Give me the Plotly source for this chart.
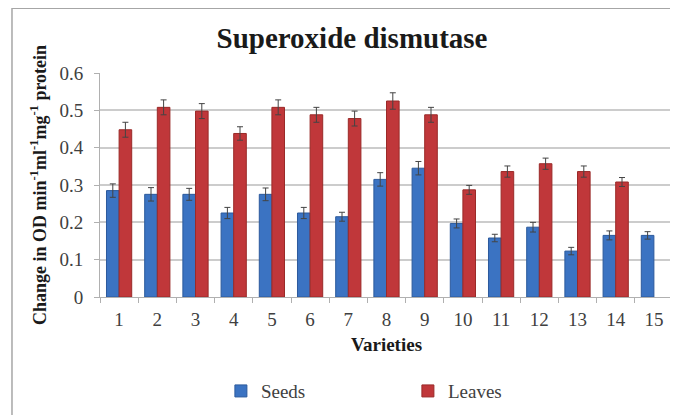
import plotly.graph_objects as go

varieties = [str(i) for i in range(1, 16)]
seeds = [0.285, 0.275, 0.275, 0.225, 0.275, 0.225, 0.215, 0.315, 0.345,
         0.197, 0.158, 0.187, 0.123, 0.165, 0.165]
seeds_err = [0.018, 0.018, 0.016, 0.015, 0.017, 0.015, 0.012, 0.018, 0.018,
             0.012, 0.010, 0.013, 0.010, 0.012, 0.010]
leaves = [0.448, 0.508, 0.498, 0.438, 0.508, 0.488, 0.478, 0.525, 0.488,
          0.287, 0.336, 0.357, 0.336, 0.308, None]
leaves_err = [0.020, 0.020, 0.020, 0.018, 0.020, 0.020, 0.020, 0.022, 0.020,
              0.012, 0.015, 0.015, 0.015, 0.012, 0]

serif = "Liberation Serif, Tinos, 'Times New Roman', 'DejaVu Serif', serif"

fig = go.Figure()
fig.add_trace(go.Bar(
    x=varieties, y=seeds, name="Seeds",
    marker=dict(color="#3B73C2", line=dict(color="#2C5A9C", width=1)),
    error_y=dict(type="data", array=seeds_err, color="#444444", thickness=1, width=3),
))
fig.add_trace(go.Bar(
    x=varieties, y=leaves, name="Leaves",
    marker=dict(color="#C0373A", line=dict(color="#9A2A28", width=1)),
    error_y=dict(type="data", array=leaves_err, color="#444444", thickness=1, width=3),
))

# frame of the screenshot (left and top edges)
fig.add_shape(type="line", xref="paper", yref="paper",
              x0=-0.1536, x1=-0.1536, y0=1.29, y1=-0.6,
              line=dict(color="#a6a6a6", width=1.5))
fig.add_shape(type="line", xref="paper", yref="paper",
              x0=-0.1536, x1=1.05, y0=1.29, y1=1.29,
              line=dict(color="#a6a6a6", width=2))

fig.update_layout(
    width=670, height=407,
    margin=dict(l=92, r=5, t=65, b=118, autoexpand=False),
    paper_bgcolor="white", plot_bgcolor="white",
    barmode="group", bargap=0.34, bargroupgap=0,
    font=dict(family=serif, size=19, color="#404040"),
    title=dict(text="<b>Superoxide dismutase</b>", x=344 / 670, xanchor="center",
               y=1 - 30 / 407, yanchor="middle",
               font=dict(family=serif, size=29, color="#1a1a1a")),
    xaxis=dict(
        showline=True, linecolor="#b0b0b0", linewidth=1,
        ticks="outside", tickson="boundaries", ticklen=5, tickcolor="#b0b0b0",
        showgrid=False, ticklabelstandoff=5,
        tickfont=dict(family=serif, size=19, color="#404040"),
        title=dict(text="<b>Varieties</b>", standoff=8,
                   font=dict(family=serif, size=19, color="#1a1a1a")),
    ),
    yaxis=dict(
        range=[0, 0.6], dtick=0.1,
        showline=True, linecolor="#b0b0b0", linewidth=1,
        ticks="outside", ticklen=5, tickcolor="#b0b0b0",
        gridcolor="#cccccc", gridwidth=1.5, zeroline=False,
        ticklabelstandoff=7,
        tickfont=dict(family=serif, size=19, color="#404040"),
        title=dict(text="<b>Change in OD min<sup>-1</sup>ml<sup>-1</sup>mg<sup>-1</sup> protein</b>",
                   standoff=8, font=dict(family=serif, size=18, color="#1a1a1a")),
    ),
    legend=dict(orientation="h", x=0.211, xanchor="left", y=-0.42, yanchor="middle",
                entrywidth=142, entrywidthmode="pixels",
                font=dict(family=serif, size=19, color="#404040")),
)

fig.write_html("out.html")
